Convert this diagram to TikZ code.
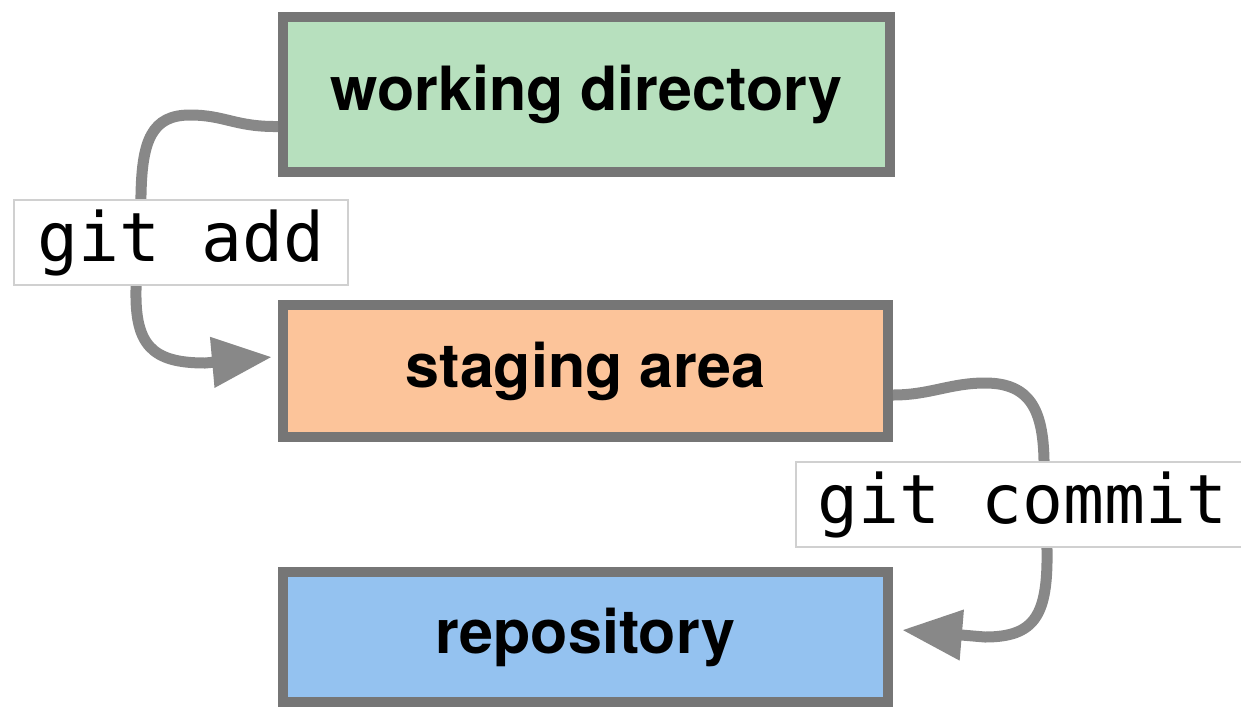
\documentclass[tikz,border=0pt]{standalone}
\usepackage{fontspec}
\setmainfont{TeX Gyre Heros}
\setmonofont{DejaVu Sans Mono}
\usetikzlibrary{arrows.meta}
\definecolor{wdgreen}{RGB}{183,224,190}
\definecolor{sapeach}{RGB}{252,196,154}
\definecolor{repoblue}{RGB}{148,194,240}
\definecolor{boxgray}{RGB}{118,118,118}
\definecolor{arrowgray}{RGB}{136,136,136}
\definecolor{cmdgray}{RGB}{208,208,208}
\begin{document}
\begin{tikzpicture}[x=.5pt,y=-.5pt,
  area/.style={draw=boxgray,line width=5pt,minimum width=302.5pt,font=\fontsize{30.5}{36}\selectfont\bfseries},
  cmd/.style={draw=cmdgray,line width=1pt,fill=white,inner sep=0pt,minimum height=42.5pt,font=\fontsize{34}{40}\selectfont\ttfamily},
  flow/.style={draw=arrowgray,line width=5.5pt,-{Triangle[length=30pt,width=24pt]}}]
\clip (0,0) rectangle (1241,713);
\node[area,fill=wdgreen,minimum width=303.5pt,minimum height=77.5pt] (wd) at (586.5,94.5) {working directory};
\node[area,fill=sapeach,minimum height=66pt] (sa) at (585.5,371) {staging area};
\node[area,fill=repoblue,minimum height=65pt] (repo) at (585.5,637) {repository};
\draw[flow] ([yshift=-16pt]wd.west) .. controls (235,127) and (225,115) .. (190,115)
  .. controls (152,115) and (142,140) .. (141,195) -- (136,290)
  .. controls (135,345) and (152,363) .. (205,363) -- ([xshift=-3pt,yshift=7pt]sa.west);
\draw[flow] ([yshift=-12pt]sa.east) .. controls (930,395) and (950,383) .. (985,383)
  .. controls (1030,383) and (1043,410) .. (1044,460) -- (1047,550)
  .. controls (1048,615) and (1035,637) .. (985,637) -- ([xshift=4.5pt,yshift=3.5pt]repo.east);
\node[cmd,minimum width=167pt] (add) at (181,242.5) {git add};
\node[cmd,minimum width=226.5pt] (commit) at (1022.5,504.5) {git commit};
\end{tikzpicture}
\end{document}
